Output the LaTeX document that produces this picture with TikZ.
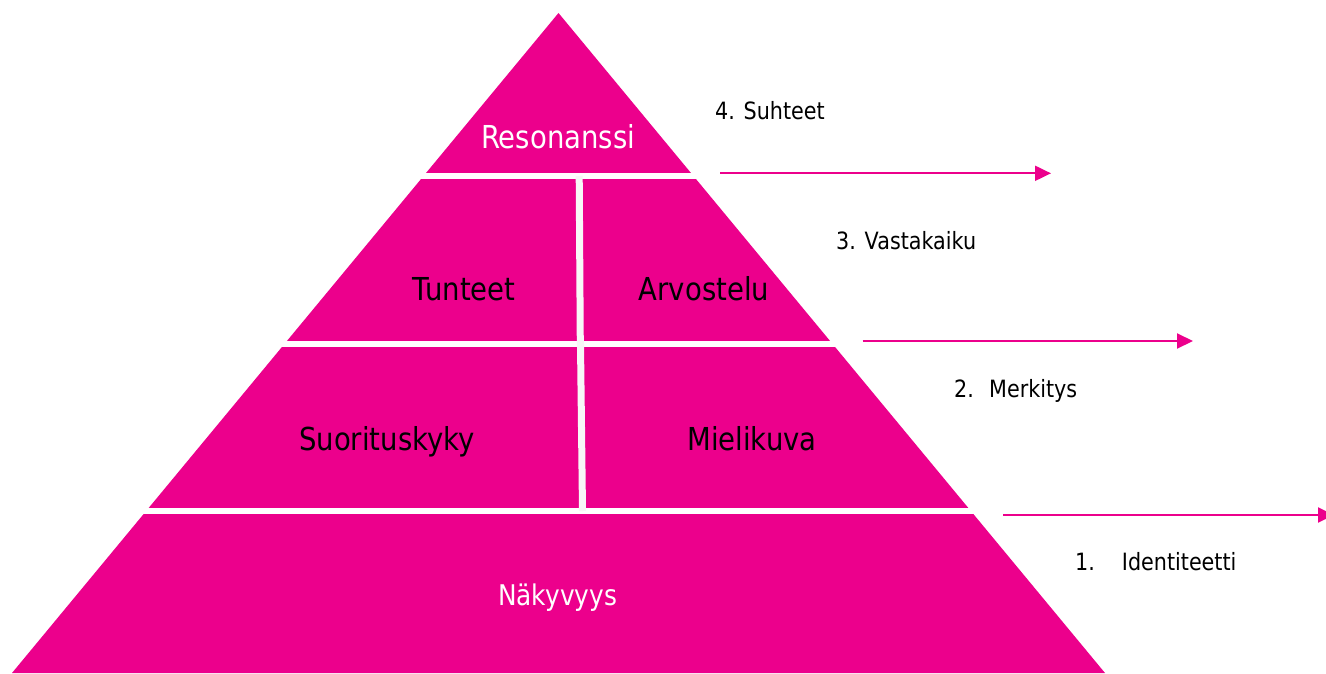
\documentclass[tikz,border=0pt]{standalone}
\usepackage{fontspec}
\usetikzlibrary{arrows.meta}
\newfontfamily\pyrfont[FakeStretch=0.87]{DejaVu Sans}
\definecolor{brandpink}{RGB}{236,0,140}
\tikzset{
  band/.style={fill=brandpink, draw=none},
  gapline/.style={draw=white, line width=6pt},
  divider/.style={draw=white!97!black, line width=7pt},
  tier/.style={font=\pyrfont\fontsize{31.6}{36}\selectfont, inner sep=0pt, anchor=base},
  tierwhite/.style={tier, text=white},
  tierdark/.style={tier, text=black},
  levellabel/.style={font=\pyrfont\fontsize{23.8}{27}\selectfont, inner sep=0pt, anchor=base west, text=black},
  flow/.style={draw=brandpink, line width=2pt, -{Triangle[length=16pt,width=15pt]}},
}
\begin{document}
\begin{tikzpicture}[x=1pt,y=-1pt]
  \clip (0,0) rectangle (1326,673);
  \fill[white] (0,0) rectangle (1326,673);

  % pyramid body
  \coordinate (apex) at (558.5,13);
  \coordinate (bl) at (12,673);
  \coordinate (br) at (1105,673);
  \fill[band] (apex) -- (br) -- (bl) -- cycle;

  % white separators between the tiers
  \coordinate (s1l) at (380,176);  \coordinate (s1r) at (740,176);
  \coordinate (s2l) at (230,344);  \coordinate (s2r) at (890,344);
  \coordinate (s3l) at (100,511);  \coordinate (s3r) at (1020,511);
  \draw[gapline] (s1l) -- (s1r);
  \draw[gapline] (s2l) -- (s2r);
  \draw[gapline] (s3l) -- (s3r);
  \coordinate (v1t) at (579.2,176);  \coordinate (v1b) at (580.3,344);
  \coordinate (v2t) at (580.5,344);  \coordinate (v2b) at (582.5,511);
  \draw[divider] (v1t) -- (v1b);
  \draw[divider] (v2t) -- (v2b);

  % tier texts
  \node[tierwhite] (reso) at (558,148) {Resonanssi};
  \node[tierdark] (tunt) at (464,300) {Tunteet};
  \node[tierdark] (arvo) at (704,300) {Arvostelu};
  \node[tierdark] (suor) at (387,450) {Suorituskyky};
  \node[tierdark] (miel) at (752,450) {Mielikuva};
  \node[tierwhite, font=\pyrfont\fontsize{28.5}{33}\selectfont] (naky) at (557.5,605) {Näkyvyys};

  % level texts on the right
  \node[levellabel] (l4) at (715,119) {4. Suhteet};
  \node[levellabel] (l3) at (836,249) {3. Vastakaiku};
  \node[levellabel] (l2) at (954,397) {\makebox[35pt][l]{2.}Merkitys};
  \node[levellabel] (l1) at (1075,570) {\makebox[46.7pt][l]{1.}Identiteetti};

  % arrows
  \coordinate (a4s) at (720,173.3);  \coordinate (a4e) at (1051,173.3);
  \coordinate (a3s) at (862.7,341);  \coordinate (a3e) at (1193,341);
  \coordinate (a2s) at (1003,515);   \coordinate (a2e) at (1334,515);
  \draw[flow] (a4s) -- (a4e);
  \draw[flow] (a3s) -- (a3e);
  \draw[flow] (a2s) -- (a2e);
\end{tikzpicture}
\end{document}
